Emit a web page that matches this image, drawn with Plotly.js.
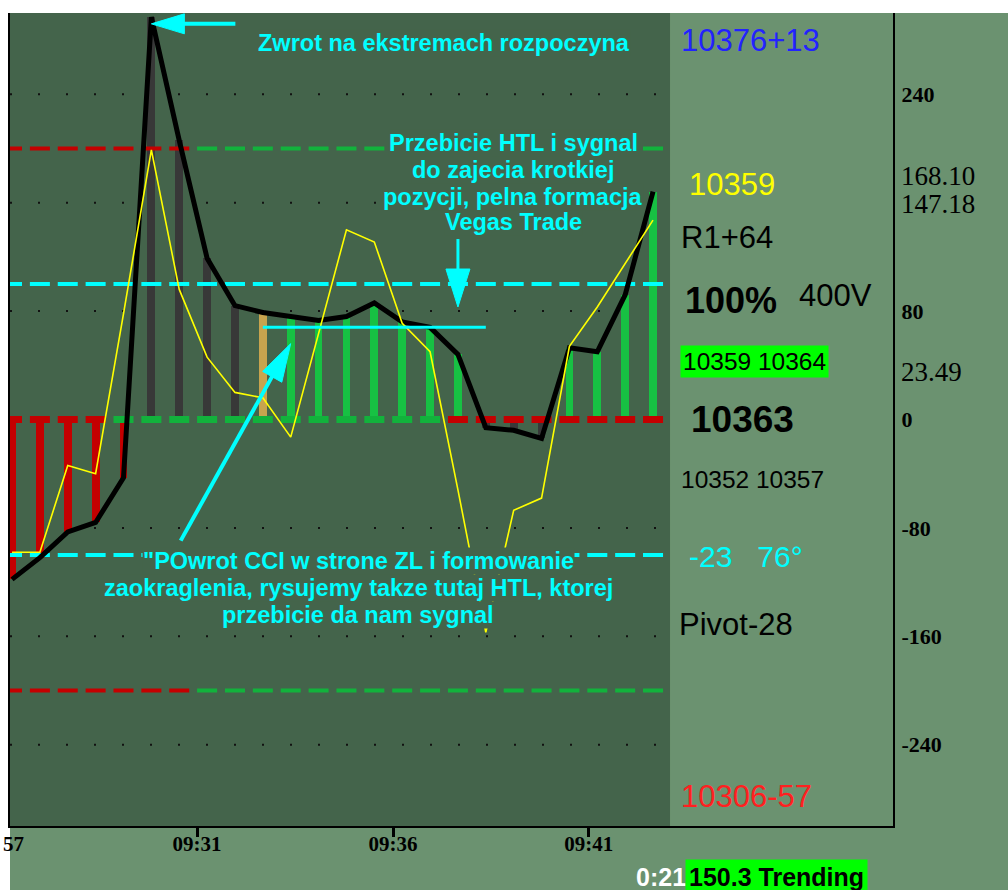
<!DOCTYPE html>
<html><head><meta charset="utf-8">
<script src="https://cdn.plot.ly/plotly-3.0.1.min.js"></script>
<style>html,body{margin:0;padding:0;background:#fff;}#chart{width:1008px;height:890px;}</style>
</head><body><div id="chart"></div>
<script>
// ---- data ----
const bars = [0,1,2,3,4,5,6,7,8,9,10,11,12,13,14,15,16,17,18,19,20,21,22,23];
const cci = [-118,-102,-83,-76,-43,297,206,119,84,79,76,73,76,86,72,68,48,-6,-8,-14,53,50,92,168.1];
const turboCci = [-98,-98,-34,-40,78,199,96,46,20,16,-13,64,140,131,71,50,-52,-157,-67,-58,54,83,115,147.18];
const barState = ['S','S','S','S','S','N','N','N','N','W','L','L','L','L','L','L','L','N','N','N','L','L','L','L'];
const zeroState = ['S','S','S','S','L','L','L','L','L','L','L','L','L','L','L','L','S','S','S','S','S','S','S','S'];
const bandState = ['S','S','S','S','S','S','S','L','L','L','L','L','L','L','L','L','L','L','L','L','L','L','L','L'];
const bandLevels = [200, -200];
const cyanLevels = [100, -100];
const gridLevels = [240, 160, 80, -80, -160, -240];
const yTickVals = [240, 160, 80, 0, -80, -160, -240];
const yTickText = ['240', '', '80', '0', '-80', '-160', '-240'];
const xTickPos = [6.64, 13.67, 20.69];
const xTickText = ['09:31', '09:36', '09:41'];
const lastLabels = [{v: 168.10, t: '168.10'}, {v: 147.18, t: '147.18'}, {v: 23.49, t: '23.49'}];

// ---- styling ----
const stateColor = {S: '#c40000', N: '#383838', W: '#c8a44e', L: '#17c143'};
const bandColor = {S: '#c40000', L: '#12b23c'};
const DARK = '#44644b', LIGHT = '#6b9270', CYAN = '#00ffff';
const L = 10, R = 893, T = 13, B = 826;
const px = p => (p - L) / (R - L);
const py = p => (B - p) / (B - T);
const xStart = -0.072, xEnd = 31.61, darkEnd = 23.61;
const DASH = 14.3; // line-ew marker: drawn length = 1.4 * size (~20px)

const traces = [];
traces.push({type: 'bar', x: bars, y: cci, width: 0.28,
  marker: {color: barState.map(s => stateColor[s]), line: {width: 0}}, hoverinfo: 'skip'});
bandLevels.forEach(lv => traces.push({type: 'scatter', mode: 'markers', x: bars, y: bars.map(() => lv),
  marker: {symbol: 'line-ew', size: DASH, line: {width: 4, color: bandState.map(s => bandColor[s])}}, hoverinfo: 'skip'}));
cyanLevels.forEach(lv => traces.push({type: 'scatter', mode: 'markers', x: bars, y: bars.map(() => lv),
  marker: {symbol: 'line-ew', size: DASH, line: {width: 4, color: CYAN}}, hoverinfo: 'skip'}));
traces.push({type: 'scatter', mode: 'markers', x: bars, y: bars.map(() => 0),
  marker: {symbol: 'line-ew', size: DASH, line: {width: 7, color: zeroState.map(s => bandColor[s])}}, hoverinfo: 'skip'});
traces.push({type: 'scatter', mode: 'lines', x: bars, y: cci, line: {color: '#000', width: 5}, hoverinfo: 'skip'});
traces.push({type: 'scatter', mode: 'lines', x: bars, y: turboCci, line: {color: '#ffff00', width: 1.6}, hoverinfo: 'skip'});

const shapes = [
  {type: 'rect', xref: 'paper', yref: 'paper', x0: 0, x1: px(1008), y0: py(890), y1: 1, fillcolor: LIGHT, line: {width: 0}, layer: 'below'},
  {type: 'rect', xref: 'x', yref: 'paper', x0: xStart, x1: darkEnd, y0: 0, y1: 1, fillcolor: DARK, line: {width: 0}, layer: 'below'}
];
gridLevels.forEach(lv => shapes.push({type: 'line', xref: 'x', yref: 'y', x0: xStart, x1: darkEnd - 0.3, y0: lv, y1: lv,
  line: {color: '#111', width: 2, dash: '2px,26px'}, layer: 'below'}));
// HTL line
const htl = {x0: 9.0, x1: 17.0, y: 68};
shapes.push({type: 'line', xref: 'x', yref: 'y', x0: htl.x0, x1: htl.x1, y0: htl.y, y1: htl.y, line: {color: CYAN, width: 3}, layer: 'above'});
// arrows (pixel paths anchored at their tips)
const arrows = [
  {x: 5, y: 292, head: 'M0,0 L33,10 L33,-10 Z', shaft: 'M30,0 L84,0', w: 4},
  {x: 16, y: 83, head: 'M0,0 L-12,38 L12,38 Z', shaft: 'M0,36 L0,68', w: 3},
  {x: 10, y: 56, head: 'M0,0 L-8.9,-38.6 L-28.1,-27.8 Z', shaft: 'M-17,-30 L-110,-197', w: 4}
];
arrows.forEach(a => {
  shapes.push({type: 'path', xref: 'x', yref: 'y', xsizemode: 'pixel', ysizemode: 'pixel', xanchor: a.x, yanchor: a.y,
    path: a.shaft, line: {color: CYAN, width: a.w}, layer: 'above'});
  shapes.push({type: 'path', xref: 'x', yref: 'y', xsizemode: 'pixel', ysizemode: 'pixel', xanchor: a.x, yanchor: a.y,
    path: a.head, fillcolor: CYAN, line: {color: CYAN, width: 1}, layer: 'above'});
});

const noteFont = {family: 'Liberation Sans, Arial, sans-serif', size: 23.5, color: CYAN, weight: 700};
const annotations = [];
function note(text, cx, cy) {
  annotations.push({xref: 'paper', yref: 'paper', x: px(cx), y: py(cy), xanchor: 'center', yanchor: 'middle',
    text: text, showarrow: false, font: noteFont, bgcolor: DARK, borderpad: 0});
}
// bottom-to-top order so descenders stay visible
note('przebicie da nam sygnal', 358, 615);
note('zaokraglenia, rysujemy takze tutaj HTL, ktorej', 358, 588);
note('"POwrot CCI w strone ZL i formowanie', 358, 561);
note('Vegas Trade', 513, 222);
note('pozycji, pelna formacja', 513, 197);
note('do zajecia krotkiej', 513, 170);
note('Przebicie HTL i sygnal', 513, 143);
note('Zwrot na ekstremach rozpoczyna', 444, 43);

const sans = 'Liberation Sans, Arial, sans-serif';
function label(text, lx, cy, size, color, weight, bg, pad) {
  const a = {xref: 'paper', yref: 'paper', x: px(lx), y: py(cy), xanchor: 'left', yanchor: 'middle', text: text,
    showarrow: false, font: {family: sans, size: size, color: color, weight: weight || 400}, borderpad: pad || 0};
  if (bg) a.bgcolor = bg;
  annotations.push(a);
}
label('10376+13', 680, 41, 31, '#2222ff');
label('10359', 688, 184, 31, '#ffff00');
label('R1+64', 680, 237, 31, '#000');
label('100%', 684, 300, 36, '#000', 700);
label('400V', 798, 296, 31, '#000');
label('10359 10364', 680, 361, 24.5, '#000', 400, '#00ff00', 2);
label('10363', 690, 419, 37, '#000', 700);
label('10352 10357', 680, 479, 24.5, '#000');
label('-23\u00a0\u00a0\u00a076°', 688, 556, 30, CYAN);
label('Pivot-28', 678, 624, 31, '#000');
label('10306-57', 680, 796, 31, '#ff2020');
label('0:21', 635, 877, 25, '#fff', 700);
label('150.3 Trending', 685, 877, 25, '#000', 700, '#00ff00', 3);

lastLabels.forEach(o => annotations.push({xref: 'paper', yref: 'y', x: px(900), y: o.v, xanchor: 'left', yanchor: 'bottom',
  text: o.t, showarrow: false, font: {family: 'Liberation Serif, Times New Roman, serif', size: 27, color: '#000'}, borderpad: 0}));
annotations.push({xref: 'paper', yref: 'paper', x: px(26), y: py(844), xanchor: 'right', yanchor: 'middle', text: '57',
  showarrow: false, font: {family: 'Liberation Serif, serif', size: 21, color: '#000', weight: 700}});

const layout = {
  width: 1008, height: 890, autosize: false,
  margin: {l: L, r: 1008 - R, t: T, b: 890 - B, pad: 0},
  paper_bgcolor: '#ffffff', plot_bgcolor: 'rgba(0,0,0,0)',
  showlegend: false, bargap: 0,
  xaxis: {range: [xStart, xEnd], tickvals: xTickPos, ticktext: xTickText, ticks: 'outside', ticklen: 9, tickwidth: 3,
    tickcolor: '#000', showline: true, linecolor: '#000', linewidth: 2, showgrid: false, zeroline: false,
    ticklabelstandoff: -11,
    tickfont: {family: 'Liberation Serif, Times New Roman, serif', size: 21, color: '#000', weight: 700}},
  yaxis: {range: [-300, 300], side: 'right', tickvals: yTickVals, ticktext: yTickText, ticks: '', showline: true, mirror: true,
    linecolor: '#000', linewidth: 2, showgrid: false, zeroline: false, ticklabelstandoff: 2,
    tickfont: {family: 'Liberation Serif, Times New Roman, serif', size: 22, color: '#000', weight: 700}},
  shapes: shapes, annotations: annotations
};
Plotly.newPlot('chart', traces, layout, {staticPlot: true, displayModeBar: false});
</script></body></html>
